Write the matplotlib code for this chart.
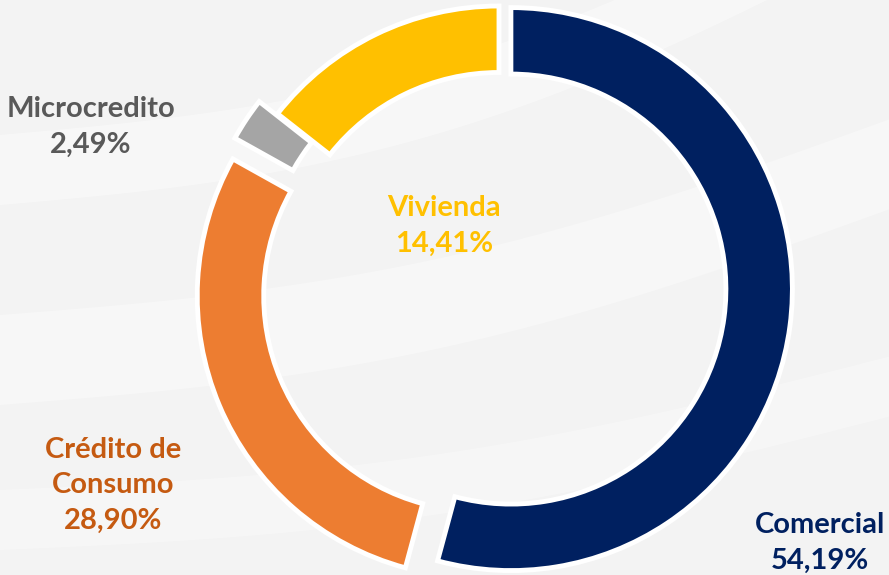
import matplotlib.pyplot as plt
import numpy as np

categories = ['Comercial', 'Crédito de\nConsumo', 'Microcredito', 'Vivienda']
values = [54.19, 28.90, 2.49, 14.41]
pct_labels = ['54,19%', '28,90%', '2,49%', '14,41%']
colors = ['#002060', '#ED7D31', '#A5A5A5', '#FFC000']
text_colors = ['#002060', '#C55A11', '#595959', '#FFC000']

fig = plt.figure(figsize=(8.89, 5.75), dpi=100)
fig.patch.set_facecolor('#F3F3F3')
ax = fig.add_axes([0, 0, 1, 1])
ax.set_facecolor('#F3F3F3')

# faint white streaks in the background
xs = np.linspace(0, 889, 80)
for y0, slope, curve, w, a in [(170, 0.30, 60, 70, 0.4), (360, 0.22, 40, 90, 0.35), (520, 0.15, 30, 60, 0.3)]:
    yc = 575 - (y0 - slope * xs + curve * np.sin(xs / 889 * np.pi))
    ax.fill_between(xs, yc - w / 2, yc + w / 2, color='white', alpha=a, lw=0, zorder=0)

# donut geometry in pixels
cx, cy, r = 499, 575 - 287.5, 281.5
ax.pie(values, colors=colors, startangle=90, counterclock=False,
       explode=[12, 22, 22, 0], radius=r, center=(cx, cy), frame=True,
       wedgeprops=dict(width=66.5, edgecolor='white', linewidth=3.5))

ax.set_xlim(0, 889)
ax.set_ylim(0, 575)
ax.set_aspect('equal')
ax.axis('off')

# label positions (pixels from top-left)
label_pos = [(820, 543), (113, 485), (91, 127), (444, 226)]
for cat, pct, col, (lx, ly) in zip(categories, pct_labels, text_colors, label_pos):
    ax.text(lx, 575 - ly, cat + '\n' + pct, ha='center', va='center',
            color=col, fontsize=21, fontweight='bold', family='Lato',
            linespacing=1.45, zorder=5)

fig.savefig('out.png', dpi=100, facecolor=fig.get_facecolor())
